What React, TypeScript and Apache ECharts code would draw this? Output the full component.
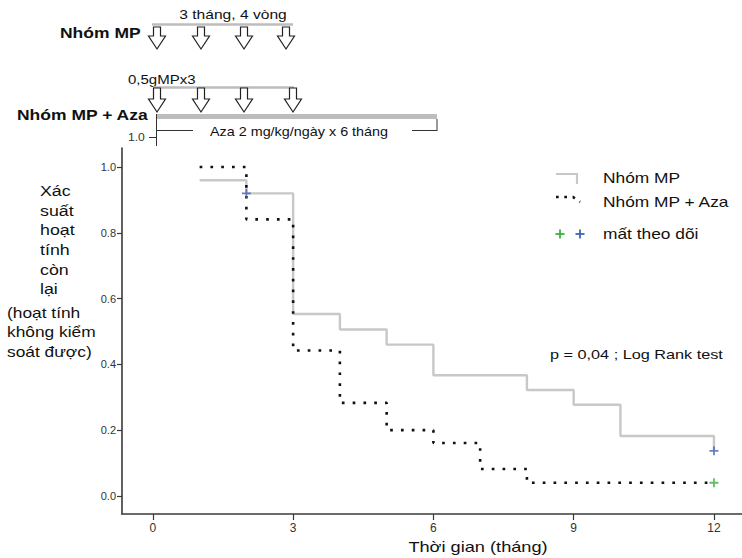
import React, { useEffect, useRef } from "react";
import * as echarts from "echarts";

// Kaplan–Meier data (time in months, survival probability)
const mpTime = [1, 2, 3, 4, 5, 6, 8, 9, 10, 12];
const mpSurv = [0.96, 0.92, 0.553, 0.506, 0.46, 0.367, 0.322, 0.277, 0.182, 0.137];
const azaTime = [1, 2, 3, 4, 5, 6, 7, 8, 12];
const azaSurv = [1.0, 0.841, 0.442, 0.283, 0.2, 0.161, 0.082, 0.04, 0.04];

// censored observations ("mất theo dõi")
const mpCensorTime = [2, 12];
const mpCensorSurv = [0.92, 0.137];
const azaCensorTime = [12];
const azaCensorSurv = [0.04];

const xTicks = [0, 3, 6, 9, 12];
const yTicks = [0, 0.2, 0.4, 0.6, 0.8, 1.0];

const yTitleLines = ["Xác", "suất", "hoạt", "tính", "còn", "lại"];
const yTitleLines2 = ["(hoạt tính", "không kiểm", "soát được)"];

const FONT = "Liberation Sans, Arial, sans-serif";
const PLUS = "path://M4,0H6V4H10V6H6V10H4V6H0V4H4Z";

function zip(a: number[], b: number[]) {
  return a.map((v, i) => [v, b[i]]);
}

function txt(
  text: string,
  x: number,
  y: number,
  size: number,
  sx: number,
  align: string = "left",
  bold = false,
  fill = "#111"
) {
  return {
    type: "text",
    x,
    y,
    scaleX: sx,
    silent: true,
    style: {
      text,
      fontSize: size,
      fontFamily: FONT,
      fontWeight: bold ? "bold" : "normal",
      fill,
      align,
      verticalAlign: "middle",
    },
  };
}

function arrow(cx: number, t: number, h: number, b: number) {
  return {
    type: "polygon",
    silent: true,
    shape: {
      points: [
        [cx - 3.5, t],
        [cx + 3.5, t],
        [cx + 3.5, h],
        [cx + 8.5, h],
        [cx, b],
        [cx - 8.5, h],
        [cx - 3.5, h],
      ],
    },
    style: { fill: "#fff", stroke: "#222", lineWidth: 1.2 },
  };
}

function ln(x1: number, y1: number, x2: number, y2: number, stroke: string, w: number, dash?: number[]) {
  return {
    type: "line",
    silent: true,
    shape: { x1, y1, x2, y2 },
    style: { stroke, lineWidth: w, lineDash: dash },
  };
}

function plus(cx: number, cy: number, color: string) {
  return {
    type: "group",
    silent: true,
    children: [ln(cx - 4.5, cy, cx + 4.5, cy, color, 1.8), ln(cx, cy - 4.5, cx, cy + 4.5, color, 1.8)],
  };
}

export default function App() {
  const ref = useRef<HTMLDivElement>(null);

  useEffect(() => {
    if (!ref.current) return;
    const chart = echarts.init(ref.current, null, { renderer: "svg" });

    const graphics: any[] = [];
    // --- treatment diagram ---
    graphics.push(txt("3 tháng, 4 vòng", 233, 15, 12, 1.3, "center"));
    graphics.push(ln(152, 24.5, 293, 24.5, "#bdbdbd", 2.5));
    graphics.push(txt("Nhóm MP", 60, 33, 14, 1.25, "left", true));
    [157, 201, 244, 286].forEach((cx) => graphics.push(arrow(cx, 27, 36, 49)));

    graphics.push(txt("0,5gMPx3", 128, 80, 12, 1.25, "left"));
    graphics.push(ln(153, 87.5, 294, 87.5, "#bdbdbd", 2.5));
    [157, 201, 244, 293].forEach((cx) => graphics.push(arrow(cx, 88, 99, 112)));
    graphics.push(txt("Nhóm MP + Aza", 17, 115.5, 14, 1.25, "left", true));
    graphics.push(ln(156, 116.5, 437, 116.5, "#bdbdbd", 5));
    graphics.push(ln(156.5, 114, 156.5, 146, "#333", 1));
    graphics.push(ln(157, 130.5, 193, 130.5, "#333", 1));
    graphics.push(ln(412, 130.5, 437, 130.5, "#333", 1));
    graphics.push(ln(437, 119, 437, 131, "#333", 1));
    graphics.push(txt("Aza 2 mg/kg/ngày x 6 tháng", 299, 132, 12.5, 1.15, "center"));
    graphics.push(txt("1.0", 128, 137, 11, 1.1, "left", false, "#333"));
    graphics.push(ln(149, 137.5, 156, 137.5, "#333", 1));

    // --- y axis title ---
    yTitleLines.forEach((s, i) => graphics.push(txt(s, 40, 191 + i * 19.7, 14, 1.27, "left")));
    yTitleLines2.forEach((s, i) => graphics.push(txt(s, 7, 313 + i * 19.5, 14, 1.24, "left")));

    // --- x axis title ---
    graphics.push(txt("Thời gian (tháng)", 478, 547, 14, 1.3, "center"));

    // --- legend ---
    graphics.push({
      type: "polyline",
      silent: true,
      shape: { points: [[556, 174], [577, 174], [577, 184]] },
      style: { stroke: "#c8c8c8", lineWidth: 2.2, fill: "none" },
    });
    graphics.push(txt("Nhóm MP", 603, 178, 14, 1.24, "left"));
    graphics.push({
      type: "polyline",
      silent: true,
      shape: { points: [[556, 197], [573, 197], [580, 202]] },
      style: { stroke: "#111", lineWidth: 2.6, lineDash: [2.7, 5.6], fill: "none" },
    });
    graphics.push(txt("Nhóm MP + Aza", 603, 202, 14, 1.24, "left"));
    graphics.push(plus(560, 234, "#3dae3d"));
    graphics.push(plus(580, 234, "#4161b5"));
    graphics.push(txt("mất theo dõi", 603, 234, 14, 1.24, "left"));

    // --- p value ---
    graphics.push(txt("p = 0,04 ; Log Rank test", 550, 355, 13, 1.25, "left"));

    chart.setOption({
      animation: false,
      backgroundColor: "#fff",
      grid: { left: 122, right: 0, top: 148, bottom: 44, containLabel: false },
      xAxis: {
        type: "value",
        min: -0.66,
        max: 12.6,
        axisLine: { show: true, onZero: false, lineStyle: { color: "#3a3a3a", width: 1.6 } },
        axisTick: { show: true, length: 6, customValues: xTicks, lineStyle: { color: "#3a3a3a", width: 1.2 } },
        axisLabel: { customValues: xTicks, margin: 8, fontSize: 12, color: "#333", fontFamily: FONT },
        splitLine: { show: false },
      },
      yAxis: {
        type: "value",
        min: -0.055,
        max: 1.058,
        axisLine: { show: true, onZero: false, lineStyle: { color: "#3a3a3a", width: 1.6 } },
        axisTick: { show: true, length: 5, customValues: yTicks, lineStyle: { color: "#3a3a3a", width: 1.2 } },
        axisLabel: {
          customValues: yTicks,
          margin: 6,
          fontSize: 11,
          color: "#333",
          fontFamily: FONT,
          formatter: (v: number) => v.toFixed(1),
        },
        splitLine: { show: false },
      },
      series: [
        {
          type: "line",
          name: "Nhóm MP",
          step: "end",
          data: zip(mpTime, mpSurv),
          showSymbol: false,
          lineStyle: { color: "#c8c8c8", width: 2.4 },
          itemStyle: { color: "#c8c8c8" },
          z: 2,
        },
        {
          type: "line",
          name: "Nhóm MP + Aza",
          step: "end",
          data: zip(azaTime, azaSurv),
          showSymbol: false,
          lineStyle: { color: "#111", width: 2.6, type: [2.7, 8.1] },
          itemStyle: { color: "#111" },
          z: 3,
        },
        {
          type: "scatter",
          data: zip(mpCensorTime, mpCensorSurv),
          symbol: PLUS,
          symbolSize: 9,
          itemStyle: { color: "#4161b5" },
          z: 4,
        },
        {
          type: "scatter",
          data: zip(azaCensorTime, azaCensorSurv),
          symbol: PLUS,
          symbolSize: 9,
          itemStyle: { color: "#3dae3d" },
          z: 4,
        },
      ],
      graphic: graphics,
    });

    return () => chart.dispose();
  }, []);

  return (
    <div
      ref={ref}
      style={{ position: "absolute", left: 0, top: 0, width: 742, height: 558 }}
    />
  );
}
